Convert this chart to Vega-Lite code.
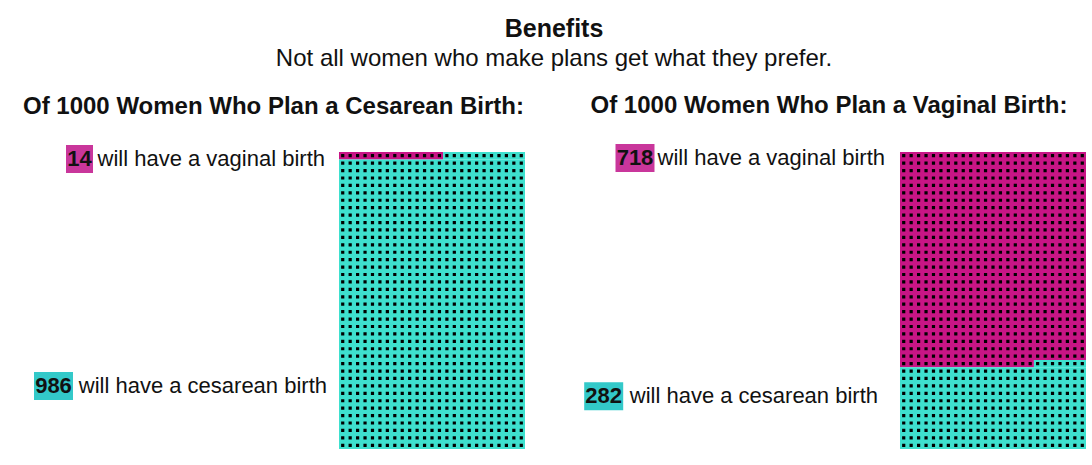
{
  "$schema": "https://vega.github.io/schema/vega-lite/v6.json",
  "background": "white",
  "padding": {"left": 22, "top": 16, "right": 4, "bottom": 4},
  "title": {
    "text": "Benefits",
    "subtitle": "Not all women who make plans get what they prefer.",
    "anchor": "middle",
    "font": "Liberation Sans",
    "fontSize": 25,
    "fontWeight": "bold",
    "color": "#111",
    "subtitleFont": "Liberation Sans",
    "subtitleFontSize": 24,
    "subtitleColor": "#111",
    "subtitlePadding": 5,
    "offset": 23
  },
  "datasets": {
    "regions": [
      {"plan": "Cesarean", "outcome": "vaginal", "row_start": 0, "row_end": 1, "col_start": 0, "col_end": 14},
      {"plan": "Cesarean", "outcome": "cesarean", "row_start": 0, "row_end": 1, "col_start": 14, "col_end": 25},
      {"plan": "Cesarean", "outcome": "cesarean", "row_start": 1, "row_end": 40, "col_start": 0, "col_end": 25},
      {"plan": "Vaginal", "outcome": "vaginal", "row_start": 0, "row_end": 28, "col_start": 0, "col_end": 25},
      {"plan": "Vaginal", "outcome": "vaginal", "row_start": 28, "row_end": 29, "col_start": 0, "col_end": 18},
      {"plan": "Vaginal", "outcome": "cesarean", "row_start": 28, "row_end": 29, "col_start": 18, "col_end": 25},
      {"plan": "Vaginal", "outcome": "cesarean", "row_start": 29, "row_end": 40, "col_start": 0, "col_end": 25}
    ],
    "columns": [
      {"col": 0.5}, {"col": 1.5}, {"col": 2.5}, {"col": 3.5}, {"col": 4.5},
      {"col": 5.5}, {"col": 6.5}, {"col": 7.5}, {"col": 8.5}, {"col": 9.5},
      {"col": 10.5}, {"col": 11.5}, {"col": 12.5}, {"col": 13.5}, {"col": 14.5},
      {"col": 15.5}, {"col": 16.5}, {"col": 17.5}, {"col": 18.5}, {"col": 19.5},
      {"col": 20.5}, {"col": 21.5}, {"col": 22.5}, {"col": 23.5}, {"col": 24.5}
    ],
    "counts": [
      {"plan": "Cesarean", "outcome": "vaginal", "n": 14, "phrase": "will have a vaginal birth"},
      {"plan": "Cesarean", "outcome": "cesarean", "n": 986, "phrase": "will have a cesarean birth"},
      {"plan": "Vaginal", "outcome": "vaginal", "n": 718, "phrase": "will have a vaginal birth"},
      {"plan": "Vaginal", "outcome": "cesarean", "n": 282, "phrase": "will have a cesarean birth"}
    ]
  },
  "spacing": 47,
  "hconcat": [
    {
      "width": 503,
      "height": 297,
      "title": {"text": "Of 1000 Women Who Plan a Cesarean Birth:", "font": "Liberation Sans", "fontSize": 24, "fontWeight": "bold", "anchor": "middle", "offset": 26, "color": "#111"},
      "layer": [
        {
          "data": {"name": "regions"},
          "transform": [{"filter": "datum.plan === 'Cesarean'"}],
          "mark": {"type": "rect"},
          "encoding": {
            "x": {"field": "col_start", "type": "quantitative", "scale": {"domain": [-42.608, 25], "nice": false, "zero": false}, "axis": null},
            "x2": {"field": "col_end"},
            "y": {"field": "row_start", "type": "quantitative", "scale": {"domain": [0, 40], "nice": false, "zero": false, "reverse": true}, "axis": null},
            "y2": {"field": "row_end"},
            "color": {"field": "outcome", "type": "nominal", "scale": {"domain": ["vaginal", "cesarean"], "range": ["#C81585", "#3EE0CE"]}, "legend": null}
          }
        },
        {
          "data": {"name": "columns"},
          "mark": {"type": "rule", "color": "#000", "strokeWidth": 3.2, "strokeDash": [3.2, 4.225], "strokeDashOffset": 5.3125},
          "encoding": {
            "x": {"field": "col", "type": "quantitative", "axis": null},
            "y": {"datum": 0, "type": "quantitative", "axis": null},
            "y2": {"datum": 40}
          }
        },
        {
          "data": {"name": "counts"},
          "transform": [{"filter": "datum.plan === 'Cesarean' && datum.outcome === 'vaginal'"}],
          "mark": {"type": "rect", "width": 27, "height": 28, "xOffset": -259.5, "fill": "#C9369B"},
          "encoding": {
            "x": {"datum": 0, "type": "quantitative", "axis": null},
            "y": {"datum": 0.94, "type": "quantitative", "axis": null}
          }
        },
        {
          "data": {"name": "counts"},
          "transform": [{"filter": "datum.plan === 'Cesarean' && datum.outcome === 'vaginal'"}],
          "mark": {"type": "text", "align": "center", "baseline": "middle", "font": "Liberation Sans", "fontSize": 22, "fontWeight": "bold", "dx": -259.5, "color": "#111"},
          "encoding": {
            "x": {"datum": 0, "type": "quantitative", "axis": null},
            "y": {"datum": 0.94, "type": "quantitative", "axis": null},
            "text": {"field": "n"}
          }
        },
        {
          "data": {"name": "counts"},
          "transform": [{"filter": "datum.plan === 'Cesarean' && datum.outcome === 'vaginal'"}],
          "mark": {"type": "text", "align": "right", "baseline": "middle", "font": "Liberation Sans", "fontSize": 22, "dx": -14, "color": "#111"},
          "encoding": {
            "x": {"datum": 0, "type": "quantitative", "axis": null},
            "y": {"datum": 0.94, "type": "quantitative", "axis": null},
            "text": {"field": "phrase"}
          }
        },
        {
          "data": {"name": "counts"},
          "transform": [{"filter": "datum.plan === 'Cesarean' && datum.outcome === 'cesarean'"}],
          "mark": {"type": "rect", "width": 39, "height": 28, "xOffset": -285.5, "fill": "#33C9C9"},
          "encoding": {
            "x": {"datum": 0, "type": "quantitative", "axis": null},
            "y": {"datum": 31.5, "type": "quantitative", "axis": null}
          }
        },
        {
          "data": {"name": "counts"},
          "transform": [{"filter": "datum.plan === 'Cesarean' && datum.outcome === 'cesarean'"}],
          "mark": {"type": "text", "align": "center", "baseline": "middle", "font": "Liberation Sans", "fontSize": 22, "fontWeight": "bold", "dx": -285.5, "color": "#111"},
          "encoding": {
            "x": {"datum": 0, "type": "quantitative", "axis": null},
            "y": {"datum": 31.5, "type": "quantitative", "axis": null},
            "text": {"field": "n"}
          }
        },
        {
          "data": {"name": "counts"},
          "transform": [{"filter": "datum.plan === 'Cesarean' && datum.outcome === 'cesarean'"}],
          "mark": {"type": "text", "align": "right", "baseline": "middle", "font": "Liberation Sans", "fontSize": 22, "dx": -12, "color": "#111"},
          "encoding": {
            "x": {"datum": 0, "type": "quantitative", "axis": null},
            "y": {"datum": 31.5, "type": "quantitative", "axis": null},
            "text": {"field": "phrase"}
          }
        }
      ]
    },
    {
      "width": 514,
      "height": 297,
      "title": {"text": "Of 1000 Women Who Plan a Vaginal Birth:", "font": "Liberation Sans", "fontSize": 24, "fontWeight": "bold", "anchor": "middle", "offset": 26, "color": "#111"},
      "layer": [
        {
          "data": {"name": "regions"},
          "transform": [{"filter": "datum.plan === 'Vaginal'"}],
          "mark": {"type": "rect"},
          "encoding": {
            "x": {"field": "col_start", "type": "quantitative", "scale": {"domain": [-44.086, 25], "nice": false, "zero": false}, "axis": null},
            "x2": {"field": "col_end"},
            "y": {"field": "row_start", "type": "quantitative", "scale": {"domain": [0, 40], "nice": false, "zero": false, "reverse": true}, "axis": null},
            "y2": {"field": "row_end"},
            "color": {"field": "outcome", "type": "nominal", "scale": {"domain": ["vaginal", "cesarean"], "range": ["#C81585", "#3EE0CE"]}, "legend": null}
          }
        },
        {
          "data": {"name": "columns"},
          "mark": {"type": "rule", "color": "#000", "strokeWidth": 3.2, "strokeDash": [3.2, 4.225], "strokeDashOffset": 5.3125},
          "encoding": {
            "x": {"field": "col", "type": "quantitative", "axis": null},
            "y": {"datum": 0, "type": "quantitative", "axis": null},
            "y2": {"datum": 40}
          }
        },
        {
          "data": {"name": "counts"},
          "transform": [{"filter": "datum.plan === 'Vaginal' && datum.outcome === 'vaginal'"}],
          "mark": {"type": "rect", "width": 39, "height": 28, "xOffset": -265, "fill": "#C9369B"},
          "encoding": {
            "x": {"datum": 0, "type": "quantitative", "axis": null},
            "y": {"datum": 0.8, "type": "quantitative", "axis": null}
          }
        },
        {
          "data": {"name": "counts"},
          "transform": [{"filter": "datum.plan === 'Vaginal' && datum.outcome === 'vaginal'"}],
          "mark": {"type": "text", "align": "center", "baseline": "middle", "font": "Liberation Sans", "fontSize": 22, "fontWeight": "bold", "dx": -265, "color": "#111"},
          "encoding": {
            "x": {"datum": 0, "type": "quantitative", "axis": null},
            "y": {"datum": 0.8, "type": "quantitative", "axis": null},
            "text": {"field": "n"}
          }
        },
        {
          "data": {"name": "counts"},
          "transform": [{"filter": "datum.plan === 'Vaginal' && datum.outcome === 'vaginal'"}],
          "mark": {"type": "text", "align": "right", "baseline": "middle", "font": "Liberation Sans", "fontSize": 22, "dx": -15, "color": "#111"},
          "encoding": {
            "x": {"datum": 0, "type": "quantitative", "axis": null},
            "y": {"datum": 0.8, "type": "quantitative", "axis": null},
            "text": {"field": "phrase"}
          }
        },
        {
          "data": {"name": "counts"},
          "transform": [{"filter": "datum.plan === 'Vaginal' && datum.outcome === 'cesarean'"}],
          "mark": {"type": "rect", "width": 39, "height": 28, "xOffset": -296.3, "fill": "#33C9C9"},
          "encoding": {
            "x": {"datum": 0, "type": "quantitative", "axis": null},
            "y": {"datum": 32.9, "type": "quantitative", "axis": null}
          }
        },
        {
          "data": {"name": "counts"},
          "transform": [{"filter": "datum.plan === 'Vaginal' && datum.outcome === 'cesarean'"}],
          "mark": {"type": "text", "align": "center", "baseline": "middle", "font": "Liberation Sans", "fontSize": 22, "fontWeight": "bold", "dx": -296.3, "color": "#111"},
          "encoding": {
            "x": {"datum": 0, "type": "quantitative", "axis": null},
            "y": {"datum": 32.9, "type": "quantitative", "axis": null},
            "text": {"field": "n"}
          }
        },
        {
          "data": {"name": "counts"},
          "transform": [{"filter": "datum.plan === 'Vaginal' && datum.outcome === 'cesarean'"}],
          "mark": {"type": "text", "align": "right", "baseline": "middle", "font": "Liberation Sans", "fontSize": 22, "dx": -22, "color": "#111"},
          "encoding": {
            "x": {"datum": 0, "type": "quantitative", "axis": null},
            "y": {"datum": 32.9, "type": "quantitative", "axis": null},
            "text": {"field": "phrase"}
          }
        }
      ]
    }
  ],
  "config": {
    "view": {"stroke": null},
    "font": "Liberation Sans"
  }
}
